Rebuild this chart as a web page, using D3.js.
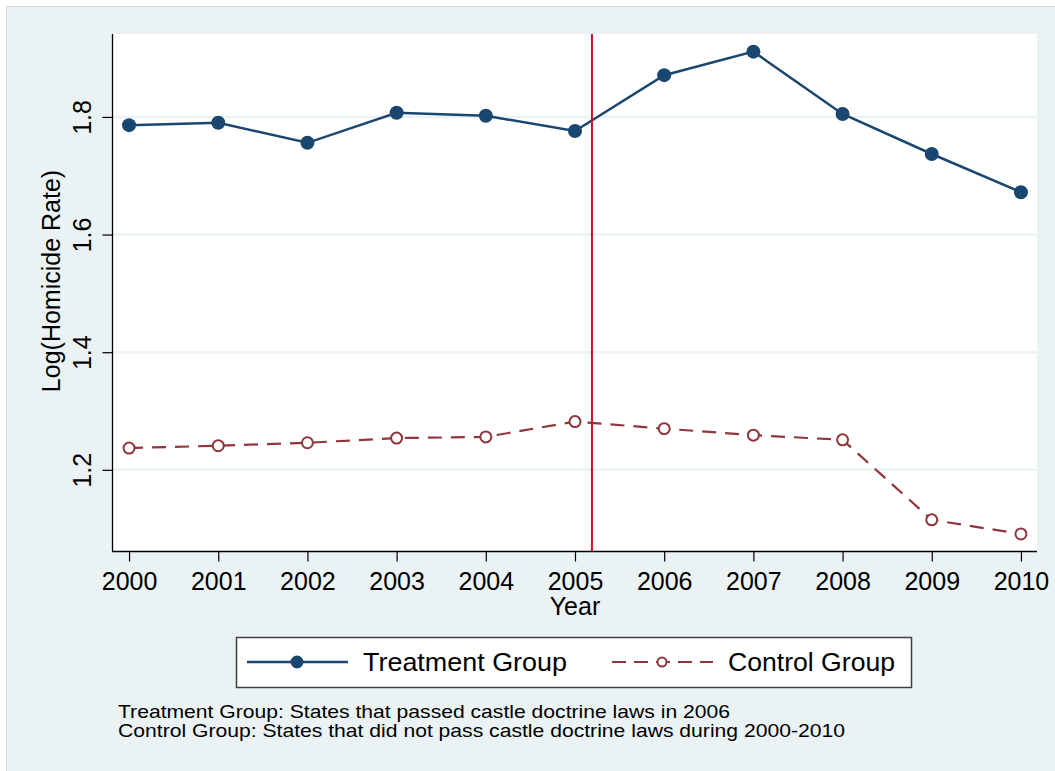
<!DOCTYPE html>
<html>
<head>
<meta charset="utf-8">
<script src="https://cdn.jsdelivr.net/npm/d3@7"></script>
<style>
  html, body { margin: 0; padding: 0; background: #ffffff; }
  svg { display: block; font-family: "Liberation Sans", Arial, sans-serif; }
</style>
</head>
<body>
<svg id="chart" width="1055" height="771"></svg>
<script>
// Valeurs
const years = [2000, 2001, 2002, 2003, 2004, 2005, 2006, 2007, 2008, 2009, 2010];
const treatment = [1.786, 1.790, 1.756, 1.807, 1.802, 1.776, 1.871, 1.911, 1.805, 1.737, 1.672];
const control = [1.237, 1.241, 1.246, 1.254, 1.256, 1.282, 1.270, 1.259, 1.251, 1.115, 1.091];
const yTicks = [1.2, 1.4, 1.6, 1.8];
const lawYear = 2005.19;
const seriesNames = ["Treatment Group", "Control Group"];
const notes = [
  "Treatment Group: States that passed castle doctrine laws in 2006",
  "Control Group: States that did not pass castle doctrine laws during 2000-2010"
];

const navy = "#1a476f", maroon = "#90353b", bg = "#eaf2f3";

const svg = d3.select("#chart");

// fond du graphique (style Stata)
svg.append("rect").attr("x", 6.5).attr("y", 6.5).attr("width", 1060).attr("height", 780)
  .attr("fill", bg).attr("stroke", "#d6d9da").attr("stroke-width", 1);

const plot = { left: 113, right: 1037, top: 34, bottom: 551 };

svg.append("rect")
  .attr("x", plot.left).attr("y", plot.top)
  .attr("width", plot.right - plot.left).attr("height", plot.bottom - plot.top)
  .attr("fill", "#ffffff");

const x = d3.scaleLinear().domain([1999.82, 2010.18]).range([plot.left, plot.right]);
const y = d3.scaleLinear().domain([1.062, 1.941]).range([plot.bottom, plot.top]);

// grille horizontale
svg.append("g").selectAll("line").data(yTicks).join("line")
  .attr("x1", plot.left).attr("x2", plot.right)
  .attr("y1", d => y(d)).attr("y2", d => y(d))
  .attr("stroke", bg).attr("stroke-width", 2.5);

// axe Y
const yAxis = svg.append("g")
  .attr("transform", `translate(${plot.left - 0.5},0)`)
  .call(d3.axisLeft(y).tickValues(yTicks).tickFormat(d3.format(".1f")).tickSize(10).tickPadding(0));
yAxis.select(".domain").attr("d", `M0,${plot.top}V${plot.bottom}`).attr("stroke", "#000").attr("stroke-width", 1.3);
yAxis.selectAll(".tick line").attr("stroke", "#000").attr("stroke-width", 1.2);
yAxis.selectAll(".tick text")
  .attr("x", 0).attr("y", 0).attr("dy", null)
  .attr("transform", "translate(-22,0) rotate(-90)")
  .attr("text-anchor", "middle")
  .attr("fill", "#000")
  .style("font-size", "25px");

// axe X
const xAxis = svg.append("g")
  .attr("transform", `translate(0,${plot.bottom + 0.5})`)
  .call(d3.axisBottom(x).tickValues(years).tickFormat(d3.format("d")).tickSize(10).tickPadding(0));
xAxis.select(".domain").attr("d", `M${plot.left - 1},0H${plot.right}`).attr("stroke", "#000").attr("stroke-width", 1.3);
xAxis.selectAll(".tick line").attr("stroke", "#000").attr("stroke-width", 1.2);
xAxis.selectAll(".tick text")
  .attr("y", 38).attr("dy", null)
  .attr("fill", "#000")
  .style("font-size", "25px");

// titres des axes
svg.append("text")
  .attr("x", (plot.left + plot.right) / 2).attr("y", 615)
  .attr("text-anchor", "middle").style("font-size", "25px").text("Year");

svg.append("text")
  .attr("transform", "translate(60,281) rotate(-90)")
  .attr("text-anchor", "middle").style("font-size", "25px").text("Log(Homicide Rate)");

// séries
const line = d3.line().x((d, i) => x(years[i])).y(d => y(d));

svg.append("path").datum(control)
  .attr("d", line).attr("fill", "none")
  .attr("stroke", maroon).attr("stroke-width", 2.2).attr("stroke-dasharray", "14,9");

svg.append("g").selectAll("circle").data(control).join("circle")
  .attr("cx", (d, i) => x(years[i])).attr("cy", d => y(d)).attr("r", 5.5)
  .attr("fill", "#fff").attr("stroke", maroon).attr("stroke-width", 2);

svg.append("path").datum(treatment)
  .attr("d", line).attr("fill", "none")
  .attr("stroke", navy).attr("stroke-width", 2.5);

svg.append("g").selectAll("circle").data(treatment).join("circle")
  .attr("cx", (d, i) => x(years[i])).attr("cy", d => y(d)).attr("r", 7)
  .attr("fill", navy);

// ligne verticale (adoption de la loi)
svg.append("line")
  .attr("x1", x(lawYear)).attr("x2", x(lawYear))
  .attr("y1", plot.top).attr("y2", plot.bottom)
  .attr("stroke", "#c8102e").attr("stroke-width", 2);

// légende
const legend = svg.append("g");
legend.append("rect").attr("x", 236.5).attr("y", 637.5).attr("width", 675).attr("height", 50)
  .attr("fill", "#fff").attr("stroke", "#404040").attr("stroke-width", 1.5);

const legendItems = [
  { name: seriesNames[0], x0: 247, color: navy, dash: null, fill: navy, r: 5.5, tx: 363, w: 204 },
  { name: seriesNames[1], x0: 612, color: maroon, dash: "14,8", fill: "#fff", r: 4.5, tx: 728, w: 167 }
];
legendItems.forEach(it => {
  legend.append("line")
    .attr("x1", it.x0).attr("x2", it.x0 + 101).attr("y1", 662).attr("y2", 662)
    .attr("stroke", it.color).attr("stroke-width", it.dash ? 2.2 : 2.5)
    .attr("stroke-dasharray", it.dash);
  legend.append("circle").attr("cx", it.x0 + 50).attr("cy", 662).attr("r", it.r)
    .attr("fill", it.fill).attr("stroke", it.color).attr("stroke-width", 2);
  legend.append("text").attr("x", it.tx).attr("y", 671)
    .attr("textLength", it.w).attr("lengthAdjust", "spacingAndGlyphs")
    .style("font-size", "26px").text(it.name);
});

// notes
const noteWidths = [612, 727];
svg.append("g").selectAll("text").data(notes).join("text")
  .attr("x", 118).attr("y", (d, i) => 718 + i * 19)
  .attr("textLength", (d, i) => noteWidths[i]).attr("lengthAdjust", "spacingAndGlyphs")
  .style("font-size", "19px").text(d => d);
</script>
</body>
</html>
